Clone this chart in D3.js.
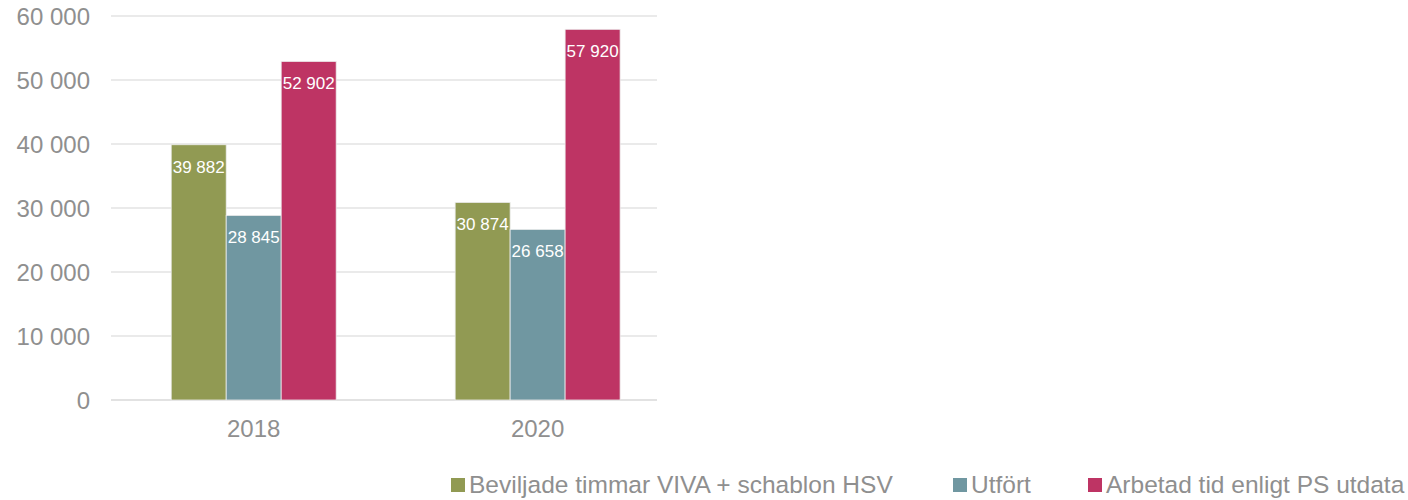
<!DOCTYPE html>
<html>
<head>
<meta charset="utf-8">
<script src="https://cdn.jsdelivr.net/npm/d3@7"></script>
<style>
  body { margin: 0; background: #fff; }
  svg { font-family: "Liberation Sans", Arial, sans-serif; }
</style>
</head>
<body>
<div id="chart"></div>
<script>
// data
var years = ["2018", "2020"];
var seriesNames = ["Beviljade timmar VIVA + schablon HSV", "Utfört", "Arbetad tid enligt PS utdata"];
var beviljade = [39882, 30874];
var utfort = [28845, 26658];
var arbetad = [52902, 57920];
var yTicks = [0, 10000, 20000, 30000, 40000, 50000, 60000];
var colors = ["#919a53", "#7097a1", "#be3464"];

var width = 1408, height = 500;
var plot = {left: 111, right: 657, top: 16, bottom: 400};

var svg = d3.select("#chart").append("svg")
    .attr("width", width)
    .attr("height", height);

var rows = years.map(function(y, i) {
  return {year: y, values: [beviljade[i], utfort[i], arbetad[i]]};
});

var fmt = function(v) { return d3.format(",")(v).replace(/,/g, " "); };

var x0 = d3.scaleBand()
    .domain(years)
    .range([plot.left, plot.right])
    .paddingInner(0.419)
    .paddingOuter(0.171)
    .align(0.62);

var x1 = d3.scaleBand()
    .domain(d3.range(seriesNames.length))
    .range([0, x0.bandwidth()]);

var y = d3.scaleLinear()
    .domain([0, 60000])
    .range([plot.bottom, plot.top]);

// gridlines
svg.append("g")
  .selectAll("line")
  .data(yTicks)
  .enter()
  .append("line")
    .attr("x1", plot.left)
    .attr("x2", plot.right)
    .attr("y1", function(d){ return y(d); })
    .attr("y2", function(d){ return y(d); })
    .attr("stroke", function(d){ return d === 0 ? "#d9d9d9" : "#e3e3e3"; })
    .attr("stroke-width", 1.5);

// y labels
svg.append("g")
  .selectAll("text")
  .data(yTicks)
  .enter()
  .append("text")
    .attr("x", 90)
    .attr("y", function(d){ return y(d); })
    .attr("dy", "0.36em")
    .attr("text-anchor", "end")
    .attr("fill", "#8f8f8f")
    .style("font-size", "24px")
    .text(fmt);

// bars
var groups = svg.append("g")
  .selectAll("g")
  .data(rows)
  .enter()
  .append("g")
    .attr("transform", function(d){ return "translate(" + x0(d.year) + ",0)"; });

groups.selectAll("rect")
  .data(function(d){ return d.values; })
  .enter()
  .append("rect")
    .attr("x", function(d, i){ return x1(i); })
    .attr("y", function(d){ return y(d); })
    .attr("width", x1.bandwidth())
    .attr("height", function(d){ return y(0) - y(d); })
    .attr("fill", function(d, i){ return colors[i]; })
    .attr("stroke", "#ececec")
    .attr("stroke-width", 0.8);

groups.selectAll("text")
  .data(function(d){ return d.values; })
  .enter()
  .append("text")
    .attr("x", function(d, i){ return x1(i) + x1.bandwidth() / 2; })
    .attr("y", function(d){ return y(d) + 28; })
    .attr("text-anchor", "middle")
    .attr("fill", "#ffffff")
    .style("font-size", "17px")
    .text(fmt);

// x labels
svg.append("g")
  .selectAll("text")
  .data(years)
  .enter()
  .append("text")
    .attr("x", function(d){ return x0(d) + x0.bandwidth() / 2; })
    .attr("y", 437)
    .attr("text-anchor", "middle")
    .attr("fill", "#8f8f8f")
    .style("font-size", "24px")
    .text(function(d){ return d; });

// legend
var legendX = [451, 953, 1088];
var legend = svg.append("g")
  .selectAll("g")
  .data(seriesNames)
  .enter()
  .append("g")
    .attr("transform", function(d, i){ return "translate(" + legendX[i] + ",478)"; });

legend.append("rect")
    .attr("width", 14)
    .attr("height", 14)
    .attr("fill", function(d, i){ return colors[i]; });

legend.append("text")
    .attr("x", 18)
    .attr("y", 15)
    .attr("fill", "#8f8f8f")
    .style("font-size", "24.5px")
    .text(function(d){ return d; });
</script>
</body>
</html>
